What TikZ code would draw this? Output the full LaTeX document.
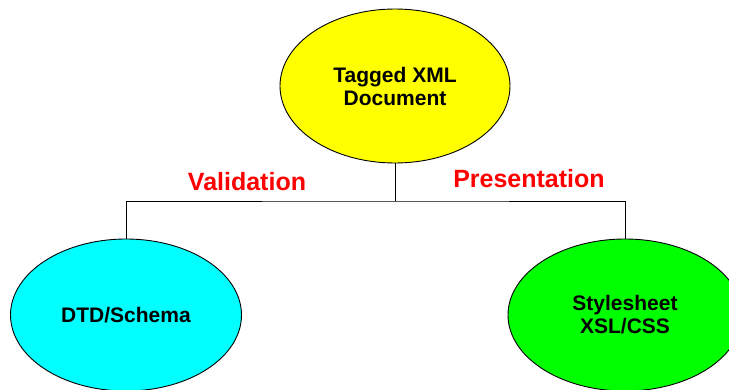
\documentclass[tikz,border=0pt]{standalone}
\usepackage{fontspec}
\setmainfont{Liberation Sans}
\usetikzlibrary{shapes.geometric}
\definecolor{xyellow}{RGB}{255,255,0}
\definecolor{xcyan}{RGB}{0,255,255}
\definecolor{xgreen}{RGB}{0,255,0}
\definecolor{xred}{RGB}{255,0,0}
\tikzset{
  blob/.style={ellipse, draw=black, line width=0.9pt, inner sep=0pt, align=center,
    font=\bfseries\fontsize{21}{23}\selectfont, text=black},
  lbl/.style={text=xred, font=\bfseries\fontsize{25}{28}\selectfont, inner sep=0pt},
  conn/.style={draw=black, line width=0.9pt}
}
\begin{document}
\begin{tikzpicture}[x=1pt,y=-1pt]
\useasboundingbox (0,0) rectangle (729,389);
\clip (0,0) rectangle (729,389);
\fill[white] (0,0) rectangle (729,389);
\node[blob, fill=xyellow, minimum width=230pt, minimum height=154pt] (top) at (395,86) {Tagged XML\\Document};
\node[blob, fill=xcyan, minimum width=231pt, minimum height=152pt] (left) at (126,315) {DTD/Schema};
\node[blob, fill=xgreen, minimum width=234pt, minimum height=152pt] (right) at (625,315) {Stylesheet\\XSL/CSS};
\coordinate (j) at (395,201);
\draw[conn] (top.south) -- (j);
\draw[conn] (left.north) |- (j) -| (right.north);
\node[lbl] (val) at (247,181.5) {Validation};
\node[lbl] (pres) at (529,179) {Presentation};
\end{tikzpicture}
\end{document}
